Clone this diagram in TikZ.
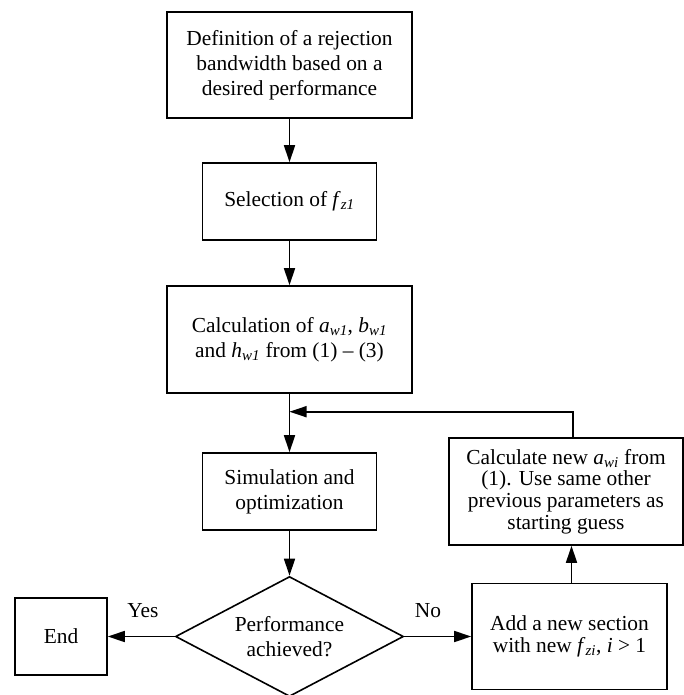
\documentclass[tikz,border=0pt]{standalone}
\usepackage{fontspec}
\setmainfont{Liberation Serif}
\usetikzlibrary{arrows.meta,shapes.geometric}
\newcommand{\mysub}[1]{\textsubscript{\textit{#1}}}
\begin{document}
\begin{tikzpicture}[x=1pt,y=-1pt,
  every node/.style={font=\fontsize{21.4}{25}\selectfont, align=center, inner sep=0pt},
  box/.style={draw, line width=1.6pt, rectangle},
  tight/.style={font=\fontsize{21.4}{21.7}\selectfont},
  arr/.style={line width=1.6pt, -{Triangle[length=17pt,width=11pt]}}]
\useasboundingbox (0,0) rectangle (684,695);
\node[box, minimum width=245, minimum height=106] (def) at (289.5,65)
  {Definition of a rejection\\bandwidth based on a\\desired performance};
\node[box, minimum width=174, minimum height=77] (sel) at (289.5,201.5)
  {Selection of \textit{f}\mysub{z1}};
\node[box, minimum width=245, minimum height=107] (calcw) at (289.5,339.5)
  {Calculation of \textit{a}\mysub{w1}, \textit{b}\mysub{w1}\\and \textit{h}\mysub{w1} from (1) -- (3)};
\node[box, minimum width=174, minimum height=77] (sim) at (289.5,491.5)
  {Simulation and\\optimization};
\node[draw, line width=1.6pt, shape=diamond, aspect=1.9, minimum width=228, minimum height=120] (dec) at (289.5,636.5)
  {Performance\\achieved?};
\node[box, minimum width=92, minimum height=77] (end) at (61,636.5) {End};
\node[box, tight, minimum width=195, minimum height=106] (add) at (569.5,636.5)
  {Add a new section\\with new \textit{f}\mysub{zi}, \textit{i} > 1};
\node[box, tight, minimum width=234, minimum height=107] (calcnew) at (566,491.5)
  {Calculate new \textit{a}\mysub{wi} from\\(1). Use same other\\previous parameters as\\starting guess};
\node (yes) at (143,611) {Yes};
\node (no) at (428,611) {No};
\coordinate (j) at (289.5,411.7);
\draw[arr] (def) -- (sel);
\draw[arr] (sel) -- (calcw);
\draw[arr] (calcw) -- (sim);
\draw[arr] (sim) -- (dec);
\draw[arr] (dec.west) -- (end.east);
\draw[arr] (dec.east) -- (add.west);
\draw[arr] ([xshift=2pt]add.north) -- ([xshift=2pt]add.north |- calcnew.south);
\draw[arr] ([xshift=3.5pt]add.north |- calcnew.north) |- (j);
\end{tikzpicture}
\end{document}
